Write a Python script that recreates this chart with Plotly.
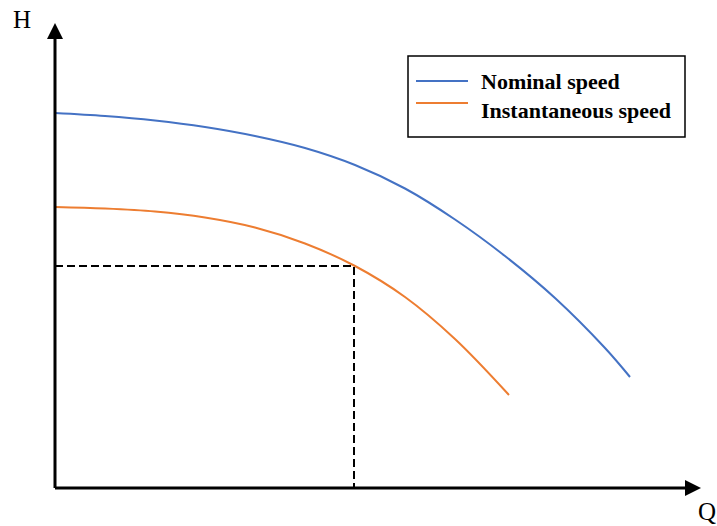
import plotly.graph_objects as go

# Pump curves (arbitrary units: flow Q, head H)
q_nominal = [0, 50, 100, 150, 200, 250, 300, 350, 400, 450, 500, 550, 575]
h_nominal = [375, 372, 367.5, 361, 352, 340, 323, 299.5, 268.5, 232, 190, 140, 111]

q_instant = [0, 50, 100, 150, 200, 250, 300, 350, 400, 454]
h_instant = [281, 279.5, 276.5, 270.5, 260.5, 244.5, 222, 191, 149, 93]

# Operating point on the instantaneous speed curve
q_op = 299
h_op = 222

series_names = ["Nominal speed", "Instantaneous speed"]
series_colors = ["#4472C4", "#ED7D31"]
axis_labels = ["H", "Q"]

FONT = "Liberation Serif, Times New Roman, serif"

fig = go.Figure()

fig.add_trace(go.Scatter(x=q_nominal, y=h_nominal, mode="lines", name=series_names[0],
                         line=dict(color=series_colors[0], width=2, shape="spline", smoothing=1),
                         showlegend=False, hoverinfo="skip"))
fig.add_trace(go.Scatter(x=q_instant, y=h_instant, mode="lines", name=series_names[1],
                         line=dict(color=series_colors[1], width=2, shape="spline", smoothing=1),
                         showlegend=False, hoverinfo="skip"))
fig.add_trace(go.Scatter(x=[0, q_op, q_op], y=[h_op, h_op, 0], mode="lines",
                         line=dict(color="black", width=2, dash="8px,4px"),
                         showlegend=False, hoverinfo="skip"))

shapes = [
    # axes
    dict(type="line", x0=0, y0=0, x1=0, y1=450, line=dict(color="black", width=3)),
    dict(type="line", x0=0, y0=0, x1=632, y1=0, line=dict(color="black", width=3)),
    dict(type="path", path="M -8 449 L 8 449 L 0 465 Z", fillcolor="black", line=dict(width=0)),
    dict(type="path", path="M 630 -8 L 630 8 L 646 0 Z", fillcolor="black", line=dict(width=0)),
    # legend box
    dict(type="rect", x0=353, x1=630, y0=351, y1=432, line=dict(color="black", width=1.5),
         fillcolor="white"),
    dict(type="line", x0=361, x1=413, y0=407, y1=407, line=dict(color=series_colors[0], width=2)),
    dict(type="line", x0=361, x1=413, y0=385, y1=385, line=dict(color=series_colors[1], width=2)),
]

annotations = [
    dict(x=-33, y=469, text=axis_labels[0], showarrow=False, xanchor="center", yanchor="middle",
         font=dict(family=FONT, size=25, color="black")),
    dict(x=652, y=-23, text=axis_labels[1], showarrow=False, xanchor="center", yanchor="middle",
         font=dict(family=FONT, size=25, color="black")),
    dict(x=424, y=407, text="<b>%s</b>" % series_names[0], showarrow=False, xanchor="left",
         yanchor="middle", font=dict(family=FONT, size=22, color="black")),
    dict(x=424, y=378, text="<b>%s</b>" % series_names[1], showarrow=False, xanchor="left",
         yanchor="middle", font=dict(family=FONT, size=22, color="black")),
]

fig.update_layout(
    width=717, height=526,
    margin=dict(l=0, r=0, t=0, b=0),
    paper_bgcolor="white", plot_bgcolor="white",
    xaxis=dict(range=[-55, 662], visible=False, fixedrange=True),
    yaxis=dict(range=[-38, 488], visible=False, fixedrange=True),
    shapes=shapes,
    annotations=annotations,
    showlegend=False,
    hovermode=False,
)

fig.write_html(
    "out.html",
    config={"displayModeBar": False, "staticPlot": True},
    post_script="document.body.style.margin='0';document.body.style.overflow='hidden';",
)
